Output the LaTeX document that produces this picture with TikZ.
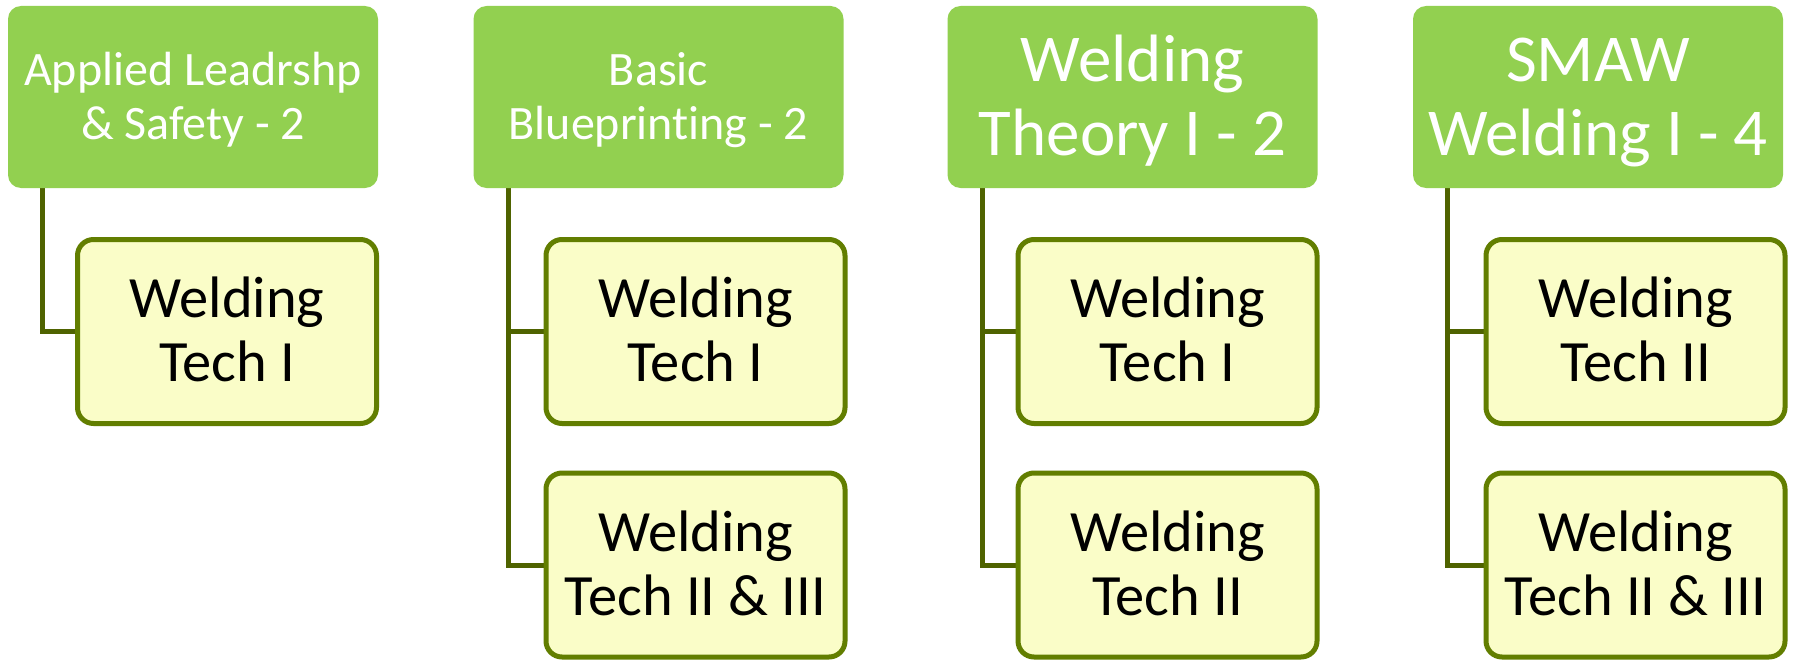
\documentclass[tikz,border=0pt]{standalone}
\usepackage{fontspec}
\setmainfont{Carlito}[Ligatures=NoCommon]
\usetikzlibrary{backgrounds}
\definecolor{topgreen}{RGB}{146,208,80}
\definecolor{childfill}{RGB}{250,253,200}
\definecolor{childline}{RGB}{98,126,0}
\definecolor{linkline}{RGB}{79,99,0}
\newcommand{\capstrut}{\rule{0pt}{0.632em}}
\newcommand{\firstl}[1]{\capstrut\smash{#1}}
\newcommand{\nextl}[1]{\smash{#1}}
\begin{document}
\begin{tikzpicture}[x=1pt,y=-1pt,
  topbox/.style={rectangle, rounded corners=13pt, fill=topgreen, text=white,
    minimum width=370pt, minimum height=182pt, inner sep=0pt, align=center},
  topsmall/.style={font=\fontsize{48}{54}\selectfont},
  topbig/.style={font=\fontsize{67}{74}\selectfont},
  childbox/.style={rectangle, rounded corners=16pt, draw=childline, line width=5pt,
    fill=childfill, minimum width=299pt, minimum height=184pt, inner sep=0pt,
    align=center, font=\fontsize{58.5}{64}\selectfont},
  link/.style={draw=linkline, line width=5pt}]
\useasboundingbox (0,0) rectangle (1795,661);
% column 1
\node[topbox,topsmall] (t1) at (193,97) {\firstl{Applied Leadrshp}\\\nextl{\& Safety - 2}};
\node[childbox] (c11) at (227,331.5) {\firstl{Welding}\\\nextl{Tech I}};
% column 2
\node[topbox,topsmall] (t2) at (658.5,97) {\firstl{Basic}\\\nextl{Blueprinting - 2}};
\node[childbox] (c21) at (695.5,331.5) {\firstl{Welding}\\\nextl{Tech I}};
\node[childbox] (c22) at (695.5,565) {\firstl{Welding}\\\nextl{Tech II \& III}};
% column 3
\node[topbox,topbig] (t3) at (1132.5,97) {\firstl{Welding}\\\nextl{Theory I - 2}};
\node[childbox] (c31) at (1167.5,331.5) {\firstl{Welding}\\\nextl{Tech I}};
\node[childbox] (c32) at (1167.5,565) {\firstl{Welding}\\\nextl{Tech II}};
% column 4
\node[topbox,topbig] (t4) at (1598,97) {\firstl{SMAW}\\\nextl{Welding I - 4}};
\node[childbox] (c41) at (1635.5,331.5) {\firstl{Welding}\\\nextl{Tech II}};
\node[childbox] (c42) at (1635.5,565) {\firstl{Welding}\\\nextl{Tech II \& III}};
\begin{pgfonlayer}{background}
\fill[white] (0,0) rectangle (1795,661);
\draw[link] ([xshift=35pt]t1.south west) |- (c11.west);
\draw[link] ([xshift=35pt]t2.south west) |- (c21.west);
\draw[link] ([xshift=35pt]t2.south west) |- (c22.west);
\draw[link] ([xshift=35pt]t3.south west) |- (c31.west);
\draw[link] ([xshift=35pt]t3.south west) |- (c32.west);
\draw[link] ([xshift=35pt]t4.south west) |- (c41.west);
\draw[link] ([xshift=35pt]t4.south west) |- (c42.west);
\end{pgfonlayer}
\end{tikzpicture}
\end{document}
